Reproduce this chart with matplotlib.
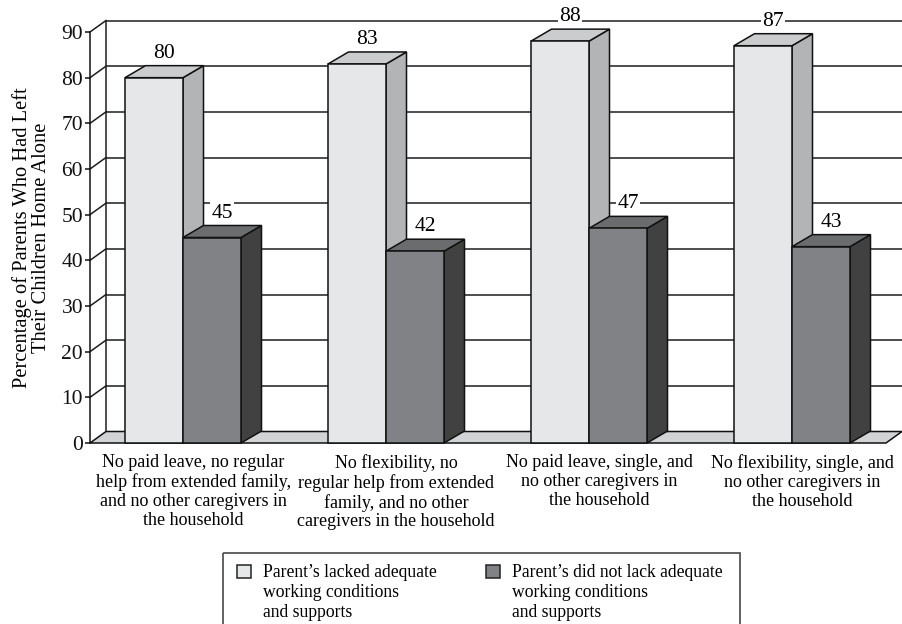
import matplotlib
matplotlib.use("Agg")
import matplotlib.pyplot as plt
from matplotlib.patches import Polygon, Rectangle

# ---- data -------------------------------------------------------------
categories = [
    "No paid leave, no regular\nhelp from extended family,\nand no other caregivers in\nthe household",
    "No flexibility, no\nregular help from extended\nfamily, and no other\ncaregivers in the household",
    "No paid leave, single, and\nno other caregivers in\nthe household",
    "No flexibility, single, and\nno other caregivers in\nthe household",
]
lacked = [80, 83, 88, 87]
not_lacked = [45, 42, 47, 43]
series_labels = [
    "Parent\u2019s lacked adequate\nworking conditions\nand supports",
    "Parent\u2019s did not lack adequate\nworking conditions\nand supports",
]
yticks = [0, 10, 20, 30, 40, 50, 60, 70, 80, 90]
ylabel = "Percentage of Parents Who Had Left\nTheir Children Home Alone"

# ---- style -------------------------------------------------------------
plt.rcParams["font.family"] = ["Liberation Serif", "DejaVu Serif"]
W, H, DPI = 902, 624, 100
fig = plt.figure(figsize=(W / DPI, H / DPI), dpi=DPI)

# front plane of the 3-D box, in pixels
LEFT_PX, RIGHT_PX, ZERO_PX, TOP_PX = 90, 886, 443, 32
CAT0_PX, CAT_STEP_PX = 183, 203
VMAX = 90
px_per_val = (ZERO_PX - TOP_PX) / VMAX

ax = fig.add_axes([LEFT_PX / W, (H - ZERO_PX) / H,
                   (RIGHT_PX - LEFT_PX) / W, (ZERO_PX - TOP_PX) / H])
x_lo = (LEFT_PX - CAT0_PX) / CAT_STEP_PX
x_hi = (RIGHT_PX - CAT0_PX) / CAT_STEP_PX
ax.set_xlim(x_lo, x_hi)
ax.set_ylim(0, VMAX)
ax.set_facecolor("none")

def dx(px):
    return px / CAT_STEP_PX

def dv(px):
    return px / px_per_val

wall_dx, wall_dv = dx(16), dv(11.5)
bar_dx, bar_dv = dx(20.5), dv(12)
bar_w = dx(58)

line_col = "#1e1e1e"
far_right = dx(W + 20 - CAT0_PX)

# back wall grid + left wall diagonals
for v in yticks:
    if v == 0:
        continue
    ax.plot([x_lo + wall_dx, far_right], [v + wall_dv] * 2, color=line_col,
            lw=1.1, clip_on=False, zorder=1, solid_capstyle="butt")
    ax.plot([x_lo, x_lo + wall_dx], [v, v + wall_dv], color=line_col,
            lw=1.1, clip_on=False, zorder=1)
# back wall left edge
ax.plot([x_lo + wall_dx] * 2, [wall_dv, VMAX + wall_dv], color=line_col,
        lw=1.1, clip_on=False, zorder=1)

# floor
floor = Polygon([(x_lo, 0), (x_hi, 0), (x_hi + wall_dx, wall_dv),
                 (x_lo + wall_dx, wall_dv)], closed=True,
                facecolor="#d2d3d5", edgecolor="#111111", lw=1.1,
                clip_on=False, zorder=2)
ax.add_patch(floor)


def bar3d(x0, value, front, top, side, z):
    x1 = x0 + bar_w
    kw = dict(closed=True, edgecolor="#111111", lw=1.1, joinstyle="miter",
              clip_on=False, zorder=z)
    ax.add_patch(Polygon([(x1, 0), (x1 + bar_dx, bar_dv),
                          (x1 + bar_dx, value + bar_dv), (x1, value)],
                         facecolor=side, **kw))
    ax.add_patch(Polygon([(x0, value), (x1, value),
                          (x1 + bar_dx, value + bar_dv),
                          (x0 + bar_dx, value + bar_dv)],
                         facecolor=top, **kw))
    ax.add_patch(Polygon([(x0, 0), (x1, 0), (x1, value), (x0, value)],
                         facecolor=front, **kw))
    ax.text(x0 + bar_w / 2 + bar_dx / 2, value + bar_dv + dv(12.5),
            f"{value}", ha="center", va="center", fontsize=15.5,
            zorder=20, clip_on=False,
            bbox=dict(facecolor="white", edgecolor="none", pad=1.0))


light = ("#e6e7e8", "#cbcccd", "#b3b4b6")
dark = ("#808285", "#6b6c6e", "#414142")
for i, (a, b) in enumerate(zip(lacked, not_lacked)):
    bar3d(i - bar_w, a, *light, z=3 + 2 * i)
    bar3d(i, b, *dark, z=4 + 2 * i)

# category labels
for i, lab in enumerate(categories):
    ax.annotate(lab, xy=(i + bar_dx / 2, 0), xytext=(0, -8),
                textcoords="offset points", ha="center", va="top",
                fontsize=13.0, linespacing=1.14, annotation_clip=False)

# axis
for s in ("top", "right", "bottom"):
    ax.spines[s].set_visible(False)
ax.spines["left"].set_color("#111111")
ax.spines["left"].set_linewidth(1.1)
ax.set_xticks([])
ax.set_yticks(yticks)
ax.tick_params(axis="y", direction="out", length=3.5, width=1.1,
               labelsize=15.5, pad=1.5, colors="#111111")
ax.set_ylabel(ylabel, fontsize=14.8, linespacing=1.0, labelpad=7.5)

# legend box
lg = fig.add_axes([0, 0, 1, 1])
lg.set_xlim(0, W)
lg.set_ylim(H, 0)
lg.axis("off")
lg.add_patch(Rectangle((223, 553), 517, 100, facecolor="none",
                       edgecolor="#555555", lw=1.3))
for mx, tx, col, lab in [(237, 263, light[0], series_labels[0]),
                         (486, 512, dark[0], series_labels[1])]:
    lg.add_patch(Rectangle((mx, 565), 14, 13, facecolor=col,
                           edgecolor="#222222", lw=1.1))
    lg.text(tx, 564, lab, ha="left", va="top", fontsize=12.7,
            linespacing=1.22)

fig.savefig("out.png", dpi=DPI)
